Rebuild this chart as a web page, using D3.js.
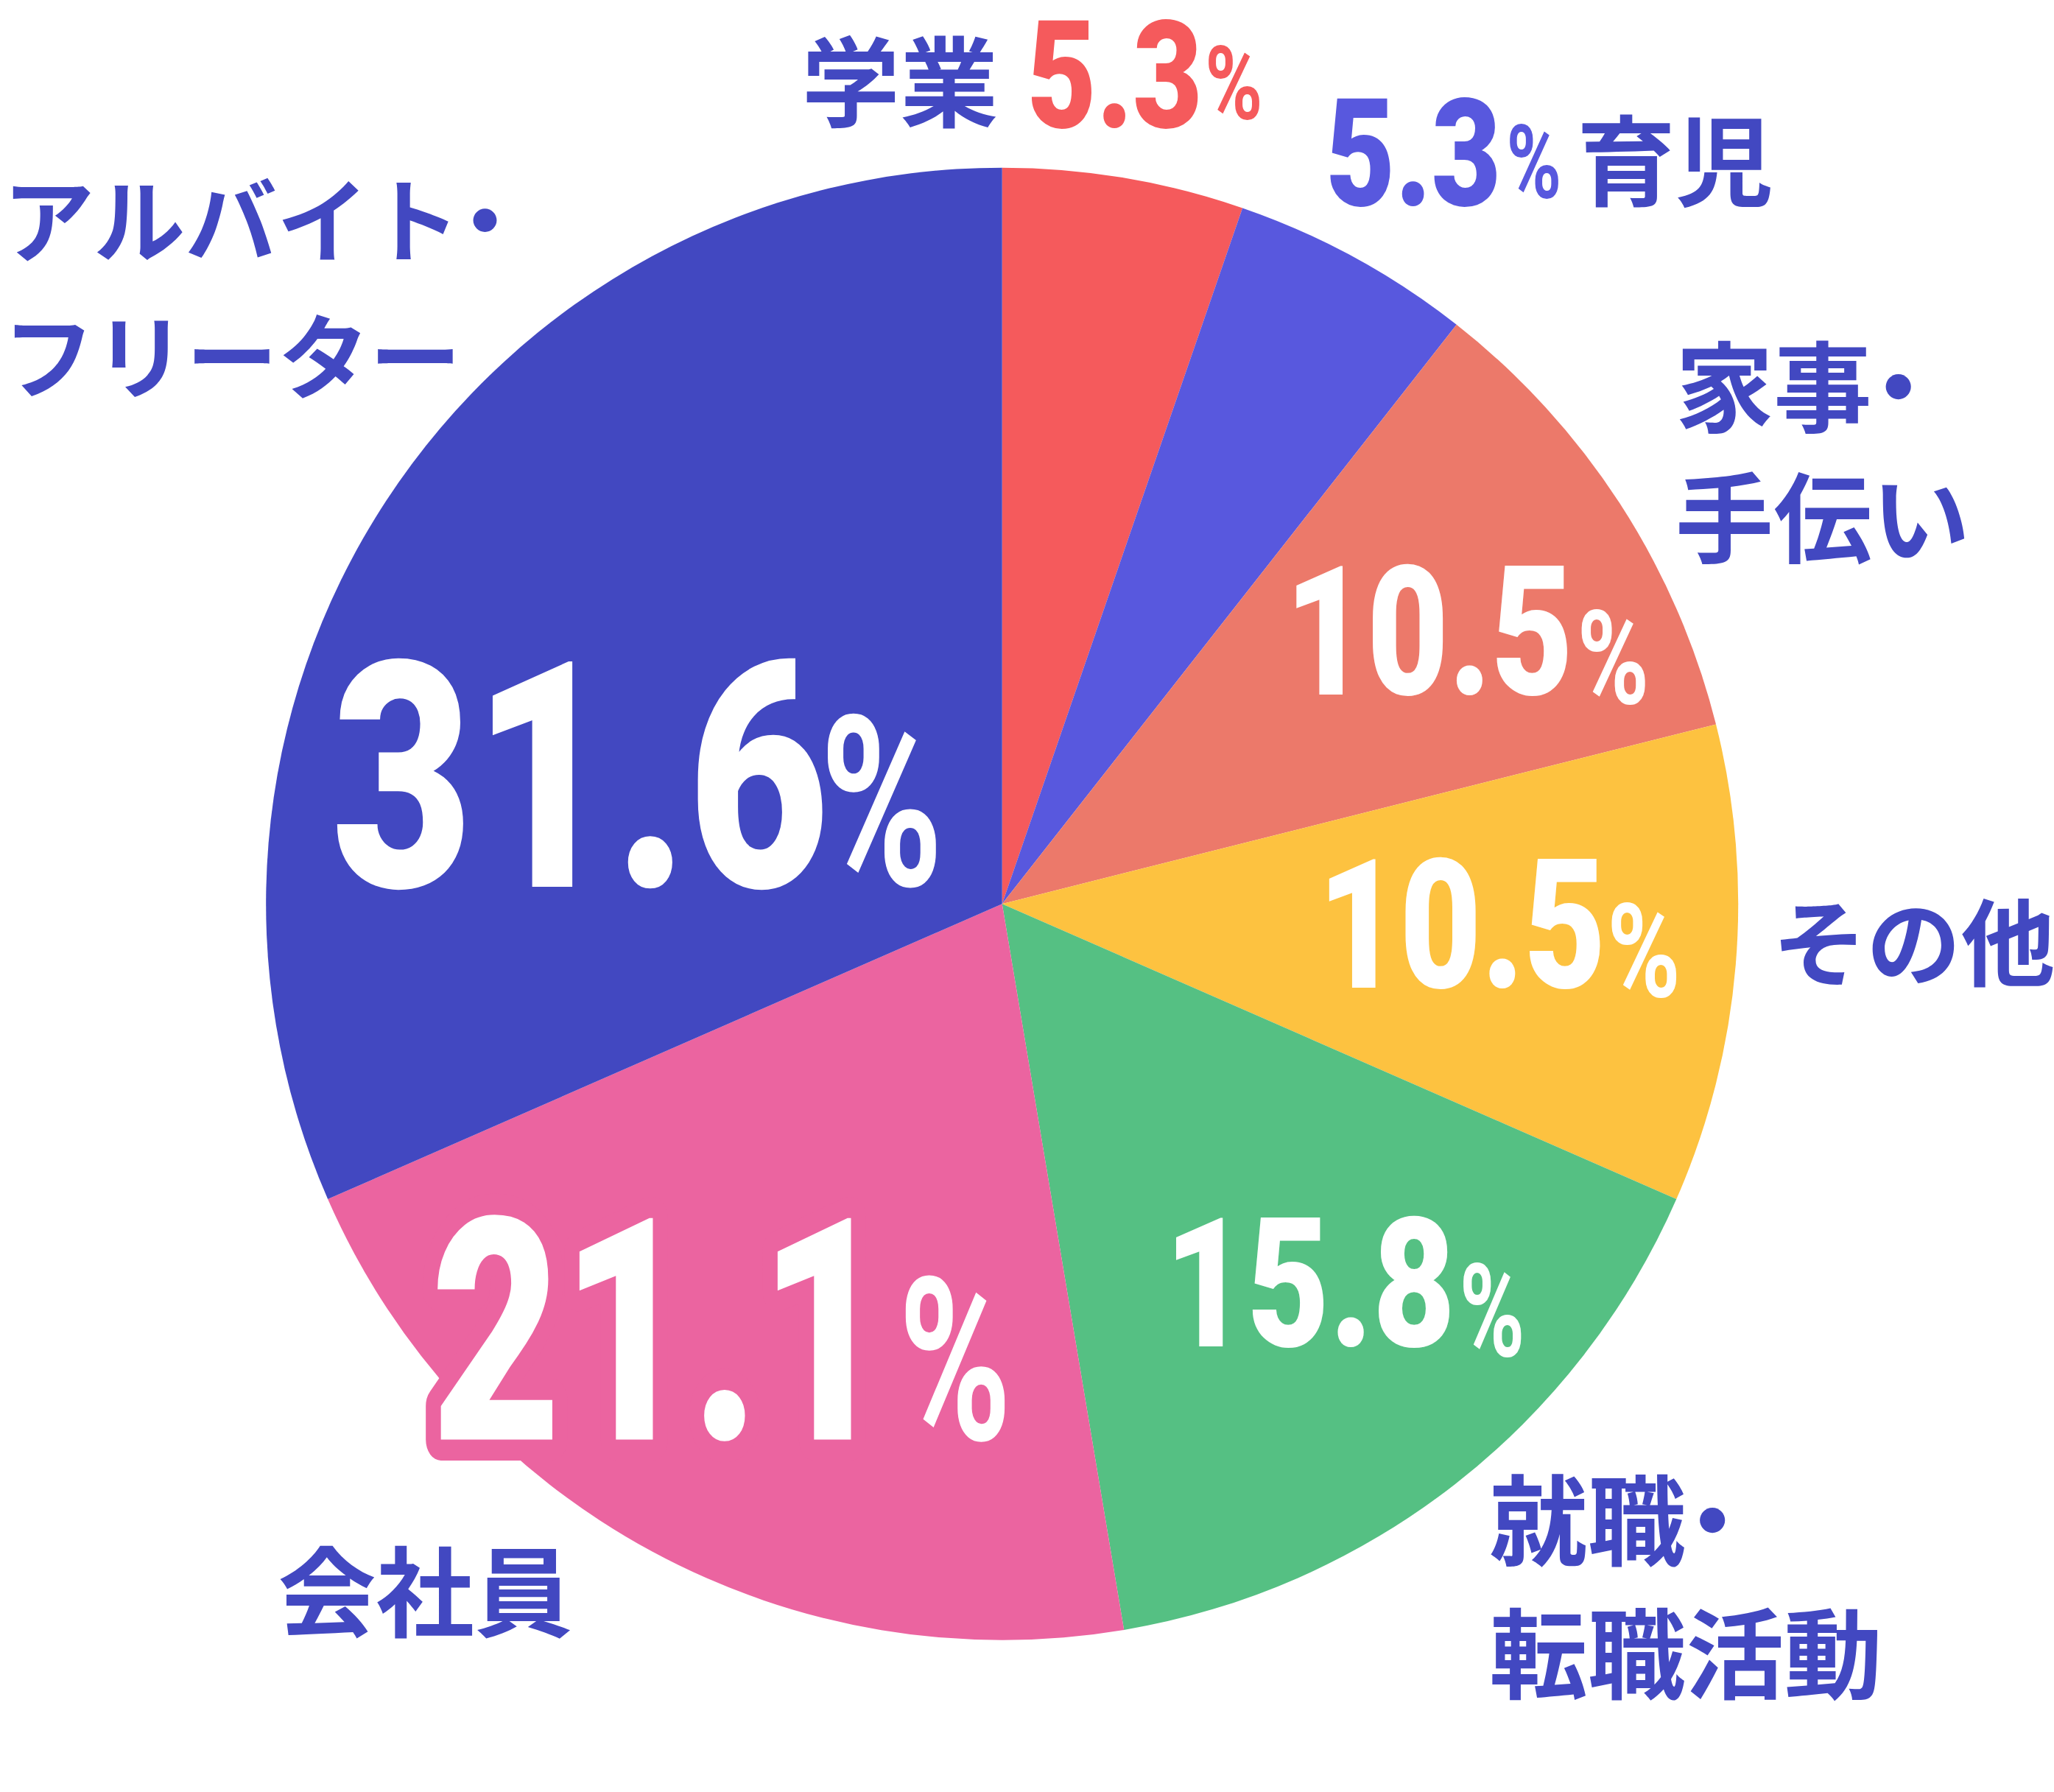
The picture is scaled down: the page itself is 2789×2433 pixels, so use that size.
<!DOCTYPE html>
<html>
<head>
<meta charset="utf-8">
<script src="https://cdn.jsdelivr.net/npm/d3@7"></script>
<style>
  html, body { margin: 0; padding: 0; background: #fff; }
  svg { display: block; }
</style>
</head>
<body>
<div id="chart"></div>
<script>
// data
const categories = ["学業", "育児", "家事・手伝い", "その他", "就職・転職活動", "会社員", "アルバイト・フリーター"];
const nameLines = [["学業"], ["育児"], ["家事・", "手伝い"], ["その他"], ["就職・", "転職活動"], ["会社員"], ["アルバイト・", "フリーター"]];
const values = [5.3, 5.3, 10.5, 10.5, 15.8, 21.1, 31.6];

// colours
const sliceColors = ["#F55A5C", "#5858DE", "#EC796A", "#FDC240", "#55C083", "#EB64A0", "#4248C1"];
const numColors = ["#F55A5C", "#5858DE", "#fff", "#fff", "#fff", "#fff", "#fff"];
const nameColor = "#4248C1";

// layout (drawn in a 1568 x 1368 box, scaled up to the window)
const W = 1568, H = 1368;
const cx = 765, cy = 690, radius = 562;

// number labels: x, baseline y, font size, width ; percent sign: x, baseline, size, width
const numLayout = [
  {x: 784, y: 97, s: 115, len: 134, px: 920, py: 91, ps: 78, plen: 44},
  {x: 1012, y: 157, s: 115, len: 134, px: 1150, py: 151, ps: 78, plen: 42},
  {x: 981, y: 530, s: 138, len: 220, px: 1204, py: 537, ps: 100, plen: 55},
  {x: 1006, y: 754, s: 138, len: 220, px: 1227, py: 761, ps: 100, plen: 56},
  {x: 889, y: 1028, s: 138, len: 222, px: 1114, py: 1035, ps: 99, plen: 50},
  {x: 329, y: 1099, s: 238, len: 350, px: 686, py: 1099, ps: 174, plen: 86, halo: true},
  {x: 253, y: 677, s: 242, len: 380, px: 626, py: 676, ps: 182, plen: 94}
];
// category names: x, first baseline, line step, font size
const nameLayout = [
  {x: 612, y: 91, dy: 0, s: 75},
  {x: 1204, y: 151, dy: 0, s: 75},
  {x: 1279, y: 324, dy: 100, s: 75},
  {x: 1353, y: 747, dy: 0, s: 72},
  {x: 1137, y: 1189, dy: 102, s: 75},
  {x: 212, y: 1244, dy: 0, s: 75},
  {x: 2, y: 195, dy: 104, s: 70}
];

const svg = d3.select("#chart").append("svg")
  .attr("width", 2789)
  .attr("height", 2433)
  .attr("viewBox", "0 0 " + W + " " + H);

const pie = d3.pie().sort(null).value(d => d);
const arc = d3.arc().innerRadius(0).outerRadius(radius);

svg.append("g")
  .attr("transform", "translate(" + cx + "," + cy + ")")
  .selectAll("path")
  .data(pie(values))
  .enter()
  .append("path")
  .attr("d", arc)
  .attr("fill", (d, i) => sliceColors[i]);

// numbers
const fmt = d3.format(".1f");
const nums = svg.append("g")
  .selectAll("g")
  .data(values)
  .enter()
  .append("g");

nums.append("text")
  .attr("x", (d, i) => numLayout[i].x)
  .attr("y", (d, i) => numLayout[i].y)
  .attr("font-size", (d, i) => numLayout[i].s)
  .attr("textLength", (d, i) => numLayout[i].len)
  .attr("lengthAdjust", "spacingAndGlyphs")
  .attr("font-family", "Roboto, sans-serif")
  .attr("font-weight", 900)
  .attr("fill", (d, i) => numColors[i])
  .attr("stroke", (d, i) => numLayout[i].halo ? sliceColors[i] : "none")
  .attr("stroke-width", (d, i) => numLayout[i].halo ? 32 : 0)
  .attr("stroke-linejoin", "round")
  .attr("paint-order", "stroke")
  .text(d => fmt(d));

nums.append("text")
  .attr("x", (d, i) => numLayout[i].px)
  .attr("y", (d, i) => numLayout[i].py)
  .attr("font-size", (d, i) => numLayout[i].ps)
  .attr("textLength", (d, i) => numLayout[i].plen)
  .attr("lengthAdjust", "spacingAndGlyphs")
  .attr("font-family", "Roboto, sans-serif")
  .attr("font-weight", 700)
  .attr("fill", (d, i) => numColors[i])
  .text("%");

// category names (the trailing "・" sits a bit closer, as in the original)
const names = svg.append("g")
  .selectAll("text")
  .data(categories)
  .enter()
  .append("text")
  .attr("font-family", "'Noto Sans CJK JP', sans-serif")
  .attr("font-weight", 700)
  .attr("font-size", (d, i) => nameLayout[i].s)
  .attr("fill", nameColor);

names.each(function(d, i) {
  const t = d3.select(this);
  const L = nameLayout[i];
  nameLines[i].forEach((line, j) => {
    const dot = line.endsWith("・");
    t.append("tspan")
      .attr("x", L.x)
      .attr("y", L.y + j * L.dy)
      .text(dot ? line.slice(0, -1) : line);
    if (dot) {
      t.append("tspan")
        .attr("dx", "-0.23em")
        .text("・");
    }
  });
});
</script>
</body>
</html>
